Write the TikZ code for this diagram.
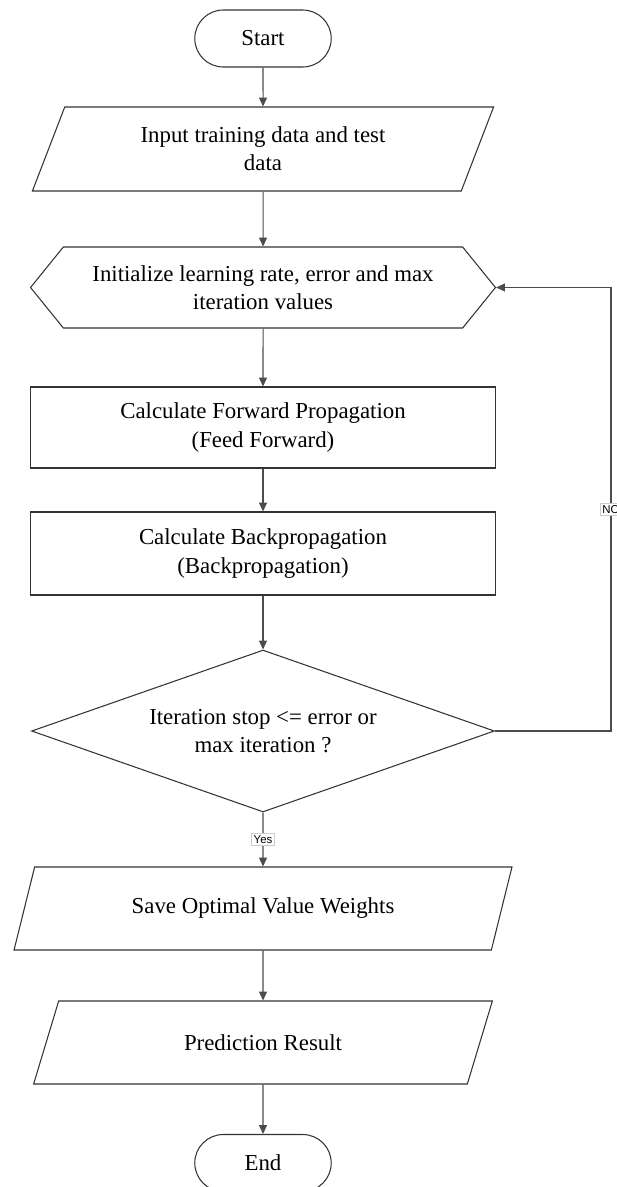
\documentclass[tikz,border=0pt]{standalone}
\usepackage{fontspec}
\setmainfont{Liberation Serif}
\setsansfont{Liberation Sans}
\usetikzlibrary{arrows.meta}
\usetikzlibrary{shapes.geometric, shapes.misc, shapes.symbols}

\begin{document}
\begin{tikzpicture}[
		x=0.02cm, y=-0.02cm,
		line width=0.6pt,
		every node/.style={font=\fontsize{13}{16}\selectfont, align=center, inner sep=1pt},
		terminal/.style={draw=black!80, rounded rectangle, minimum width=2.8cm, minimum height=1.14cm},
		io/.style={draw=black!80, trapezium, trapezium left angle=67, trapezium right angle=113,
				trapezium stretches=true, minimum height=1.66cm},
		process/.style={draw=black!80, rectangle, minimum width=9.3cm},
		prep/.style={draw=black!80, signal, signal to=east and west, signal pointer angle=102,
				minimum width=9.3cm, minimum height=1.62cm},
		decision/.style={draw=black!80, diamond, aspect=2.86, minimum width=9.26cm,
				minimum height=3.24cm, inner sep=0pt},
		flow/.style={draw=black!70, -{Triangle[length=5pt, width=4.5pt]}},
		tag/.style={font=\sffamily\fontsize{6.5}{7}\selectfont, fill=white, draw=black!20, inner sep=1pt}
	]

	% page frame
	\useasboundingbox (0,0) rectangle (617,1187);
	\clip (0,0) rectangle (617,1187);

	% flowchart steps
	\node[terminal] (start) at (263,38.5) {Start};
	\node[io, minimum width=9.24cm, minimum height=1.68cm] (input) at (263,149) {Input training data and test\\data};
	\node[prep] (init) at (263,287.5) {Initialize learning rate, error and max\\iteration values};
	\node[process, minimum height=1.62cm] (forward) at (263,427.5) {Calculate Forward Propagation\\(Feed Forward)};
	\node[process, minimum height=1.66cm] (backward) at (263,553.5) {Calculate Backpropagation\\(Backpropagation)};
	\node[decision] (check) at (263,731) {Iteration stop <= error or\\max iteration ?};
	\node[io, minimum width=9.98cm, trapezium left angle=63.7, trapezium right angle=116.3] (save) at (263,908.5) {Save Optimal Value Weights};
	\node[io, minimum width=9.18cm, trapezium left angle=63.2, trapezium right angle=116.8] (result) at (263,1042.5) {Prediction Result};
	\node[terminal] (end) at (263,1163) {End};

	% main flow
	\draw[flow] (start) -- (input);
	\draw[flow] (input) -- (init);
	\draw[flow] (init) -- (forward);
	\draw[flow] (forward) -- (backward);
	\draw[flow] (backward) -- (check);
	\draw[flow] (check) -- node[tag] {Yes} (save);
	\draw[flow] (save) -- (result);
	\draw[flow] (result) -- (end);

	% loop back
	\coordinate (loop) at (611,731);
	\draw[flow] (check.east) -- (loop) |- node[tag, pos=0.25] {NO} (init.east);

\end{tikzpicture}
\end{document}
